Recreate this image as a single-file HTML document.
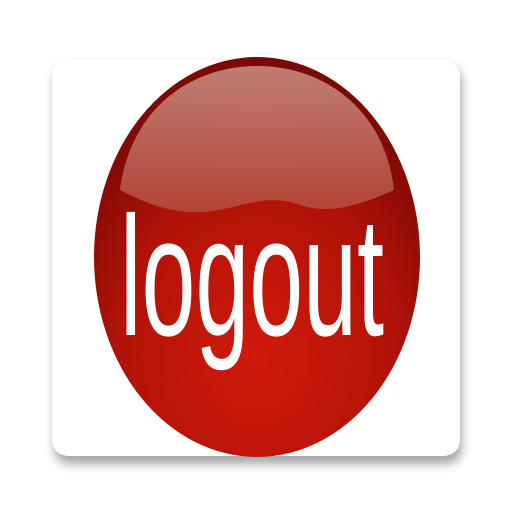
<!DOCTYPE html>
<html><head><meta charset="utf-8"><style>
html,body{margin:0;padding:0;width:512px;height:512px;background:#fff;overflow:hidden}
</style></head><body>
<svg width="512" height="512" viewBox="0 0 512 512">
<defs>
<filter id="sh" x="-20%" y="-20%" width="140%" height="140%"><feGaussianBlur stdDeviation="5"/></filter>
<radialGradient id="rg" cx="0.5" cy="0.75" r="0.7">
<stop offset="0" stop-color="#d01a0c"/><stop offset="0.6" stop-color="#b21208"/><stop offset="1" stop-color="#7a0a04"/>
</radialGradient>
<linearGradient id="hl" x1="0" y1="0" x2="0" y2="1">
<stop offset="0" stop-color="#c98a80"/><stop offset="1" stop-color="#b4493c"/>
</linearGradient>
</defs>
<rect x="54" y="66" width="408" height="398" rx="16" fill="#000" opacity="0.35" filter="url(#sh)"/>
<rect x="52" y="60" width="408" height="396" rx="16" fill="#fff"/>
<ellipse cx="257" cy="257" rx="163" ry="200" fill="url(#rg)"/>
<path d="M120,190 C130,110 190,66 257,66 C325,66 385,110 394,190 C360,205 330,215 300,205 C260,190 230,215 190,212 C160,210 140,200 120,190 Z" fill="url(#hl)" opacity="0.9"/>
<text x="252" y="335" text-anchor="middle" font-family="'Liberation Sans Narrow','Liberation Sans',sans-serif" font-size="170" fill="#fff" textLength="264" lengthAdjust="spacingAndGlyphs">logout</text>
</svg>
</body></html>
